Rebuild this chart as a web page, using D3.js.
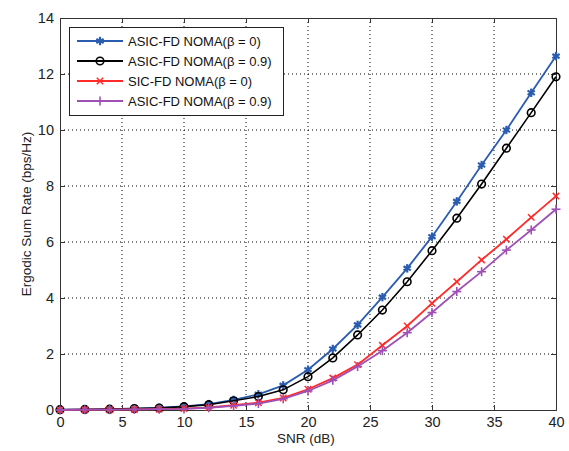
<!DOCTYPE html>
<html><head><meta charset="utf-8">
<script src="https://cdn.jsdelivr.net/npm/d3@7/dist/d3.min.js"></script>
<style>body{margin:0;background:#fff;} text{font-family:"Liberation Sans",Arial,sans-serif;}</style>
</head><body>
<svg id="c" width="569" height="451"></svg>
<script>
const snr = [0,2,4,6,8,10,12,14,16,18,20,22,24,26,28,30,32,34,36,38,40];
const asicB0  = [0.01,0.02,0.03,0.05,0.08,0.13,0.21,0.36,0.56,0.88,1.44,2.18,3.04,4.03,5.06,6.19,7.45,8.75,10.0,11.33,12.64];
const asicB09 = [0.01,0.02,0.03,0.05,0.07,0.12,0.19,0.33,0.48,0.72,1.19,1.86,2.68,3.57,4.58,5.69,6.85,8.07,9.35,10.62,11.9];
const sicB0   = [0.0,0.01,0.01,0.02,0.03,0.05,0.09,0.17,0.26,0.43,0.74,1.14,1.62,2.31,3.0,3.81,4.58,5.36,6.1,6.88,7.64];
const asicB09b= [0.0,0.01,0.01,0.02,0.03,0.04,0.08,0.15,0.23,0.4,0.68,1.06,1.55,2.12,2.76,3.48,4.23,4.94,5.71,6.43,7.17];
const xTicks = [0,5,10,15,20,25,30,35,40];
const yTicks = [0,2,4,6,8,10,12,14];
const seriesNames = ["ASIC-FD NOMA(β = 0)","ASIC-FD NOMA(β = 0.9)","SIC-FD NOMA(β = 0)","ASIC-FD NOMA(β = 0.9)"];
const seriesVals = [asicB0, asicB09, sicB0, asicB09b];
const colors = ["#2a5db0","#000000","#ff2a2a","#a050b4"];
const markers = ["star","circle","x","plus"];

const svg = d3.select("#c");
const L=60,R=556,T=18,B=410;
const x = d3.scaleLinear().domain([0,40]).range([L,R]);
const y = d3.scaleLinear().domain([0,14]).range([B,T]);

// grid
const g = svg.append("g");
xTicks.forEach(t=>{ if(t>0&&t<40) g.append("line").attr("x1",x(t)).attr("x2",x(t)).attr("y1",T).attr("y2",B).attr("stroke","#000").attr("stroke-width",1).attr("stroke-dasharray","1,3");});
yTicks.forEach(t=>{ if(t>0&&t<14) g.append("line").attr("x1",L).attr("x2",R).attr("y1",y(t)).attr("y2",y(t)).attr("stroke","#000").attr("stroke-width",1).attr("stroke-dasharray","1,3");});

// axes
const xa = svg.append("g").attr("transform",`translate(0,${B})`).call(d3.axisBottom(x).tickValues(xTicks).tickSize(-5).tickPadding(7));
const xa2 = svg.append("g").attr("transform",`translate(0,${T})`).call(d3.axisTop(x).tickValues(xTicks).tickSize(-5).tickFormat(""));
const ya = svg.append("g").attr("transform",`translate(${L},0)`).call(d3.axisLeft(y).tickValues(yTicks).tickSize(-5).tickPadding(6));
const ya2 = svg.append("g").attr("transform",`translate(${R},0)`).call(d3.axisRight(y).tickValues(yTicks).tickSize(-5).tickFormat(""));
[xa,xa2,ya,ya2].forEach(a=>{a.select(".domain").attr("stroke","#333").attr("stroke-width",1);a.selectAll("line").attr("stroke","#333");a.selectAll("text").attr("font-size",14.5).attr("fill","#222").attr("font-family","Liberation Sans, Arial, sans-serif");});

svg.append("text").attr("x",306).attr("y",443).attr("text-anchor","middle").attr("font-size",13.5).attr("fill","#222").text("SNR (dB)");
svg.append("text").attr("transform",`translate(31,${(T+B)/2}) rotate(-90)`).attr("text-anchor","middle").attr("font-size",13.5).attr("fill","#222").text("Ergodic Sum Rate (bps/Hz)");

function drawMarker(sel,type,cx,cy,col){
  if(type==="star"){
    const r=4.2;
    for(let i=0;i<3;i++){const a=Math.PI/2+i*Math.PI/3;sel.append("line").attr("x1",cx-r*Math.cos(a)).attr("y1",cy-r*Math.sin(a)).attr("x2",cx+r*Math.cos(a)).attr("y2",cy+r*Math.sin(a)).attr("stroke",col).attr("stroke-width",2.2);}
  } else if(type==="circle"){
    sel.append("circle").attr("cx",cx).attr("cy",cy).attr("r",3.8).attr("fill","none").attr("stroke",col).attr("stroke-width",1.6);
  } else if(type==="x"){
    const r=3.2;
    sel.append("line").attr("x1",cx-r).attr("y1",cy-r).attr("x2",cx+r).attr("y2",cy+r).attr("stroke",col).attr("stroke-width",1.5);
    sel.append("line").attr("x1",cx-r).attr("y1",cy+r).attr("x2",cx+r).attr("y2",cy-r).attr("stroke",col).attr("stroke-width",1.5);
  } else {
    const r=4.5;
    sel.append("line").attr("x1",cx-r).attr("y1",cy).attr("x2",cx+r).attr("y2",cy).attr("stroke",col).attr("stroke-width",1.6);
    sel.append("line").attr("x1",cx).attr("y1",cy-r).attr("x2",cx).attr("y2",cy+r).attr("stroke",col).attr("stroke-width",1.6);
  }
}

const line = d3.line().x((d,i)=>x(snr[i])).y(d=>y(d));
seriesVals.forEach((vals,k)=>{
  svg.append("path").datum(vals).attr("d",line).attr("fill","none").attr("stroke",colors[k]).attr("stroke-width",k===1?1.6:1.8);
  const mg = svg.append("g");
  vals.forEach((v,i)=>drawMarker(mg,markers[k],x(snr[i]),y(v),colors[k]));
});

// legend
const lg = svg.append("g");
lg.append("rect").attr("x",69.5).attr("y",27.5).attr("width",214).attr("height",88).attr("fill","#fff").attr("stroke","#222").attr("stroke-width",1);
seriesNames.forEach((n,k)=>{
  const yy = 41+k*20;
  lg.append("line").attr("x1",77).attr("x2",123).attr("y1",yy).attr("y2",yy).attr("stroke",colors[k]).attr("stroke-width",1.8);
  drawMarker(lg,markers[k],100,yy,colors[k]);
  lg.append("text").attr("x",128).attr("y",yy+4.5).attr("font-size",13).attr("fill","#111").text(n);
});
</script>
</body></html>
